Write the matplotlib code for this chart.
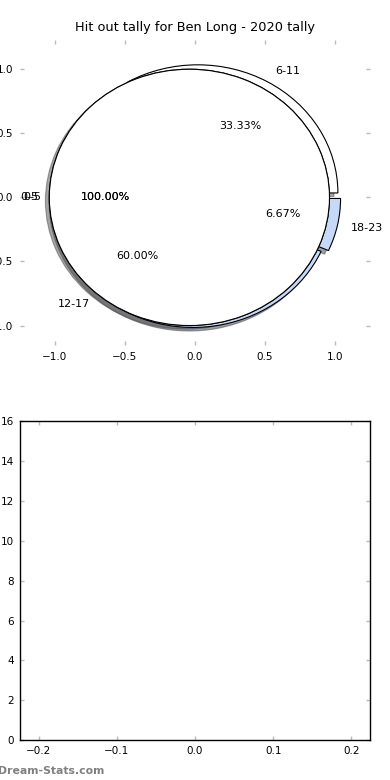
import matplotlib
matplotlib.use("Agg")
import matplotlib.pyplot as plt

PLAYER = "Ben Long"
SEASON = 2020

# whole-game slice (drawn as a single 100% wedge)
all_windows = ["0-5"]
all_counts = [15]

# hit outs per time window
windows = ["6-11", "12-17", "18-23"]
counts = [5, 9, 1]
explode = [0.04, 0.02, 0.04]
colours = ["white", "#c6d9f9", "#c6d9f9"]

fig = plt.figure(figsize=(3.9, 7.8), dpi=100)

ax = fig.add_axes([0.051, 0.558, 0.898, 0.391])
ax.pie(counts, labels=windows, explode=explode, colors=colours,
       autopct="%1.2f%%", startangle=0, shadow=True,
       wedgeprops={"edgecolor": "black", "linewidth": 0.8},
       textprops={"fontsize": 8})
for i, dist in enumerate((1.06, 1.08)):
    ax.pie(all_counts, labels=all_windows, colors=["white"], explode=[0.04],
           autopct="%1.2f%%", startangle=0, shadow=(i == 0), labeldistance=dist,
           wedgeprops={"edgecolor": "black", "linewidth": 0.8},
           textprops={"fontsize": 8})
ax.set_aspect("auto")
ax.set_frame_on(False)
ax.set_xlim(-1.25, 1.25)
ax.set_ylim(-1.15, 1.23)
ax.set_xticks([-1.0, -0.5, 0.0, 0.5, 1.0])
ax.set_yticks([-1.0, -0.5, 0.0, 0.5, 1.0])
ax.tick_params(direction="in", color="#bbbbbb", top=True, right=True,
               length=3, width=1, labelsize=7.5, pad=5)
ax.set_title("Hit out tally for %s - %d tally" % (PLAYER, SEASON), fontsize=9.3)

ax2 = fig.add_axes([0.051, 0.051, 0.898, 0.409])
ax2.set_xlim(-0.224, 0.224)
ax2.set_ylim(0, 16)
ax2.set_xticks([-0.2, -0.1, 0.0, 0.1, 0.2])
ax2.set_yticks(range(0, 17, 2))
ax2.tick_params(direction="in", color="#bbbbbb", top=True, right=True,
                length=3, width=1, labelsize=7.5, pad=4)
for s in ax2.spines.values():
    s.set_linewidth(1)

fig.text(-0.006, 0.008, "Dream-Stats.com", color="#808080", fontsize=7.8,
         weight="semibold")

fig.savefig("out.png", dpi=100)
